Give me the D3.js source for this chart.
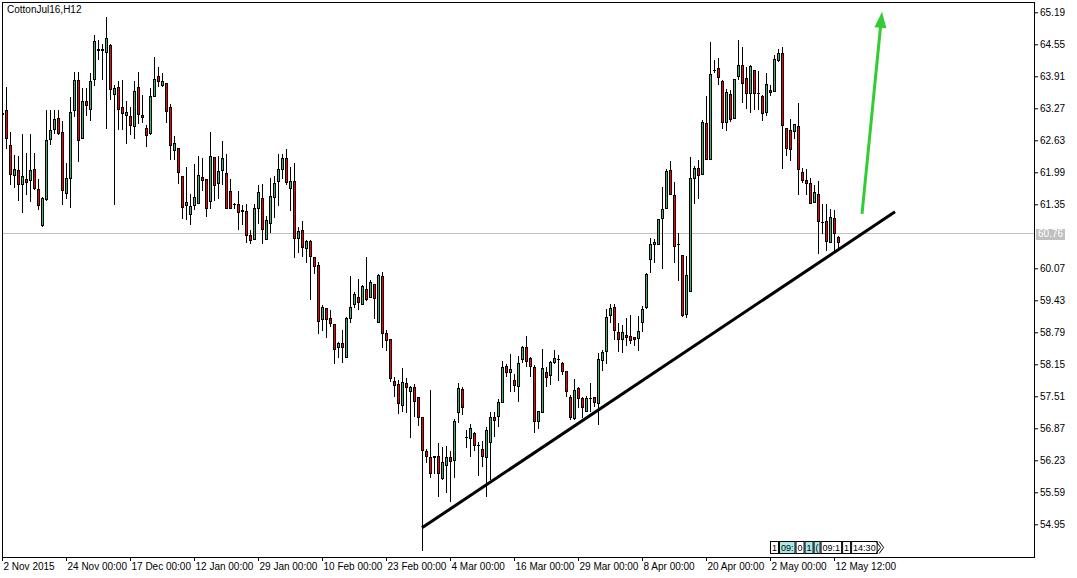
<!DOCTYPE html>
<html><head><meta charset="utf-8">
<script src="https://cdn.jsdelivr.net/npm/d3@7"></script>
<style>
body{margin:0;background:#fff;}
svg text{font-family:"Liberation Sans",Arial,sans-serif;}
</style>
</head><body>
<svg id="chart" width="1077" height="578"></svg>
<script>
const symbolTitle = "CottonJul16,H12";
const opens = [63.17,63.24,62.53,61.93,62.03,61.76,61.86,61.84,62.05,61.66,60.94,61.46,62.65,62.85,63.07,62.79,61.58,61.87,63.24,63.84,62.67,63.42,63.26,63.86,64.46,64.43,64.40,64.53,63.56,63.70,63.30,63.14,63.12,62.91,63.70,63.14,62.87,62.77,63.52,63.92,63.74,63.78,63.30,62.43,62.47,61.92,61.34,61.16,61.34,61.38,61.89,61.86,61.42,62.29,61.78,62.03,61.97,61.62,61.36,61.36,61.23,61.22,60.74,60.66,61.28,61.48,60.66,60.98,61.50,61.82,62.05,62.27,61.68,61.82,60.68,60.84,60.47,60.61,60.29,60.13,59.06,59.28,59.08,58.96,58.50,58.58,58.30,59.08,59.36,59.49,59.36,59.65,59.49,59.75,59.00,59.91,58.78,58.66,57.81,57.75,57.33,57.77,57.61,57.69,57.49,57.09,56.42,56.30,56.32,56.32,55.88,56.14,56.30,56.24,57.19,57.65,56.70,56.68,56.78,56.54,56.46,56.30,56.60,57.09,57.11,57.39,58.12,58.00,57.83,57.71,58.26,58.50,58.28,58.10,57.01,57.19,57.99,57.93,58.20,58.26,58.18,58.02,57.49,57.07,57.67,57.47,57.21,57.47,57.49,57.37,58.24,58.42,59.14,59.30,58.80,58.66,58.74,58.72,58.70,58.68,58.99,59.30,60.25,60.55,60.55,61.08,61.28,62.03,61.54,60.55,60.33,59.16,59.61,61.87,62.07,61.95,62.97,62.25,64.04,64.08,63.82,62.99,63.56,63.07,63.92,64.14,63.88,63.58,64.04,63.58,63.52,63.20,63.64,63.62,64.24,64.38,62.87,62.83,62.81,62.91,61.99,61.84,61.78,61.40,61.56,61.00,61.02,60.59,61.08,60.70];
const highs = [63.20,63.70,62.79,62.33,62.31,62.75,62.37,62.75,62.37,61.86,61.50,63.24,63.24,63.24,63.24,63.01,62.17,63.50,64.00,64.00,63.68,63.68,63.98,64.73,64.63,64.55,65.09,64.55,63.74,63.82,63.84,63.42,63.30,63.82,64.00,63.54,62.93,63.68,64.30,64.10,63.98,63.78,63.36,62.71,62.47,61.92,62.09,61.56,62.15,62.31,62.27,61.86,62.79,62.29,62.31,62.61,62.35,61.86,61.37,61.62,61.34,61.36,60.84,61.36,61.74,61.76,61.12,61.87,61.92,62.35,62.35,62.45,62.09,62.17,60.90,61.02,60.63,60.63,60.29,60.19,59.34,59.28,59.24,58.96,58.60,58.84,59.10,59.91,59.59,59.85,59.73,60.29,59.83,59.75,59.95,59.99,58.84,58.66,57.89,57.83,58.07,57.87,57.71,57.75,57.49,57.09,56.46,57.63,56.32,56.58,56.50,56.52,56.42,57.05,57.77,57.69,56.83,56.95,56.80,56.60,56.62,56.89,57.19,57.19,57.45,58.22,58.16,58.36,57.95,58.32,58.52,58.72,58.30,58.14,57.21,58.46,58.10,58.22,58.44,58.34,58.20,58.02,57.53,57.85,57.69,57.49,57.51,57.77,57.49,58.38,58.44,59.26,59.36,59.36,58.98,58.94,59.08,59.14,58.70,59.12,59.32,59.97,60.68,60.66,61.06,61.70,62.05,62.21,61.80,60.78,60.33,60.31,62.29,62.11,62.23,63.03,63.52,64.59,64.24,64.28,63.84,63.66,63.64,63.86,64.63,64.49,64.10,64.14,64.04,64.02,63.54,63.98,63.74,64.34,64.46,64.49,62.87,63.05,62.95,63.38,62.07,62.05,61.87,61.74,61.82,61.36,61.36,61.26,61.24,60.72];
const lows = [63.12,62.47,61.76,61.70,61.44,61.20,61.56,61.42,61.66,61.26,60.92,61.44,62.55,62.77,62.75,61.36,61.48,61.30,63.11,62.21,62.67,63.13,63.03,63.74,64.26,63.86,62.87,63.46,61.36,62.85,62.85,62.57,62.75,62.67,62.97,62.99,62.51,62.75,63.52,63.72,63.72,62.99,62.25,62.25,61.78,61.08,61.06,60.96,61.26,61.38,61.64,61.12,61.28,61.44,61.48,61.76,61.28,61.28,61.28,60.86,60.96,60.59,60.57,60.66,60.98,60.57,60.66,60.80,61.10,61.34,61.87,61.76,61.24,60.29,60.39,60.31,60.19,59.45,59.97,58.78,58.84,58.70,58.92,58.18,58.30,58.20,58.30,59.00,59.30,59.26,59.36,59.43,59.49,59.08,59.00,58.50,58.44,57.81,57.51,57.17,57.21,57.19,56.70,57.11,56.93,54.43,56.20,55.90,55.98,55.52,55.86,55.60,55.42,55.90,56.99,57.15,56.50,56.32,56.44,55.94,56.12,55.52,55.86,56.72,56.91,57.39,57.91,57.61,57.61,57.41,58.20,58.12,57.91,56.79,56.87,57.19,57.71,57.75,58.18,57.83,57.96,57.51,57.05,57.05,57.29,57.09,57.21,57.21,57.31,56.95,58.04,58.18,59.00,58.66,58.42,58.40,58.54,58.58,58.54,58.44,58.82,59.28,59.99,60.19,60.55,60.07,61.28,61.56,60.19,59.83,59.12,59.10,59.61,61.38,61.48,61.95,62.25,62.25,64.00,63.76,62.87,62.83,63.01,63.07,63.86,63.40,63.28,63.20,63.26,63.26,63.03,63.14,63.54,63.62,64.22,62.07,62.33,62.23,62.67,61.56,61.80,61.56,61.38,61.40,60.37,60.78,60.43,60.59,60.39,60.49];
const closes = [63.15,62.67,61.95,62.05,61.76,61.92,61.80,62.03,61.68,61.34,61.48,62.63,62.83,63.05,62.77,61.64,61.87,63.20,63.84,62.63,63.42,63.34,63.82,64.61,64.44,64.45,64.67,63.66,63.68,63.26,63.18,63.20,62.93,63.62,63.16,63.09,62.73,63.52,63.86,63.82,63.82,63.22,62.53,62.57,61.99,61.30,61.40,61.32,61.50,61.93,61.83,61.28,62.31,61.74,62.01,62.27,61.28,61.28,61.36,61.20,61.21,60.74,60.64,61.28,61.60,60.86,61.04,61.52,61.78,62.05,62.27,61.80,61.82,60.68,60.82,60.49,60.61,60.31,60.11,59.02,59.30,59.06,58.98,58.46,58.58,58.50,59.08,59.30,59.55,59.39,59.71,59.45,59.79,59.47,59.93,58.78,58.64,57.87,57.73,57.37,57.79,57.69,57.69,57.41,57.09,56.44,56.32,55.98,56.30,55.98,56.20,56.30,56.22,57.01,57.67,57.29,56.70,56.87,56.54,56.54,56.32,56.84,57.09,57.03,57.39,58.10,58.00,58.06,57.73,58.18,58.50,58.22,58.12,57.01,57.21,58.08,57.89,58.20,58.28,58.26,58.02,57.61,57.09,57.63,57.47,57.29,57.47,57.47,57.39,58.26,58.40,59.10,59.28,58.84,58.66,58.80,58.70,58.64,58.66,58.82,59.26,59.95,60.55,60.59,61.06,61.26,62.01,61.56,60.51,60.55,59.14,59.93,61.87,62.07,61.93,62.99,62.25,63.96,64.04,63.90,62.99,63.60,63.05,63.86,64.14,63.78,63.58,64.12,63.58,63.58,63.18,63.76,63.60,64.26,64.38,62.93,62.47,62.45,62.95,62.05,61.84,61.78,61.38,61.60,61.02,61.00,60.61,61.10,60.78,60.59];

const timeLabelBars = [0,16,32,48,64,80,96,112,128,144,160,176,192,208];
const timeLabels = ["2 Nov 2015","24 Nov 00:00","17 Dec 00:00","12 Jan 00:00","29 Jan 00:00","10 Feb 00:00","23 Feb 00:00","4 Mar 00:00","16 Mar 00:00","29 Mar 00:00","8 Apr 00:00","20 Apr 00:00","2 May 00:00","12 May 12:00"];
const priceTicks = [65.19,64.55,63.91,63.27,62.63,61.99,61.35,60.07,59.43,58.79,58.15,57.51,56.87,56.23,55.59,54.95];
const currentPrice = 60.76;
// support trend line: [bar index, price] at its two ends
const trendBars = [105, 223.25];
const trendPrices = [54.88, 61.20];
// projected move arrow: [bar index, price] from tail to tip
const arrowBars = [215, 220];
const arrowPrices = [61.16, 65.20];
// overlapping time-scale markers at bottom right
const navLabels = ["1","09:","0","1","(","09:1","1","14:30"];
const navHighlight = [false,true,false,true,true,false,false,false];

const svg = d3.select("#chart");
const L = 2, T = 2, R = 1034, B = 557;
const bullColor = "#3CB371", bearColor = "#FF0000";

const x = d3.scaleLinear().domain([0, 208]).range([2, 834]);
const y = d3.scaleLinear().domain([54.95, 65.19]).range([524.3, 12.3]);

svg.append("rect").attr("width",1077).attr("height",578).attr("fill","#fff");
svg.append("defs").append("clipPath").attr("id","clip")
  .append("rect").attr("x",L).attr("y",T).attr("width",R-L).attr("height",B-T);

// current price line
const py = Math.floor(y(currentPrice)) + 0.5;
svg.append("line").attr("x1",L).attr("x2",R).attr("y1",py).attr("y2",py)
  .attr("stroke","#C0C0C0").attr("stroke-width",1);

const bars = opens.map((o,i)=>({i, o, h: highs[i], l: lows[i], c: closes[i]}));
const g = svg.append("g").attr("clip-path","url(#clip)");

g.selectAll("line.wick").data(bars).join("line").attr("class","wick")
  .attr("x1", d => Math.round(x(d.i)) + 0.5).attr("x2", d => Math.round(x(d.i)) + 0.5)
  .attr("y1", d => Math.round(y(d.h))).attr("y2", d => Math.round(y(d.l)) + 1)
  .attr("stroke","#000").attr("stroke-width",1);

const bodyTop = d => Math.round(y(Math.max(d.o, d.c)));
const bodyBot = d => Math.round(y(Math.min(d.o, d.c)));
g.selectAll("rect.body").data(bars.filter(d => bodyBot(d) - bodyTop(d) >= 1)).join("rect").attr("class","body")
  .attr("x", d => Math.round(x(d.i)) - 0.5).attr("width", 2)
  .attr("y", d => bodyTop(d) + 0.5).attr("height", d => bodyBot(d) - bodyTop(d))
  .attr("fill", d => d.c > d.o ? bullColor : bearColor)
  .attr("stroke","#000").attr("stroke-width",1);
g.selectAll("line.doji").data(bars.filter(d => bodyBot(d) - bodyTop(d) < 1)).join("line").attr("class","doji")
  .attr("x1", d => Math.round(x(d.i)) - 1).attr("x2", d => Math.round(x(d.i)) + 2)
  .attr("y1", d => bodyTop(d) + 0.5).attr("y2", d => bodyTop(d) + 0.5)
  .attr("stroke","#000").attr("stroke-width",1);

// trend line
g.append("line")
  .attr("x1", x(trendBars[0])).attr("y1", y(trendPrices[0]))
  .attr("x2", x(trendBars[1])).attr("y2", y(trendPrices[1]))
  .attr("stroke","#000").attr("stroke-width",3);

// green arrow
const ax0 = x(arrowBars[0]), ay0 = y(arrowPrices[0]), ax1 = x(arrowBars[1]), ay1 = y(arrowPrices[1]);
const len = Math.hypot(ax1-ax0, ay1-ay0), ux = (ax1-ax0)/len, uy = (ay1-ay0)/len;
const headLen = 16, headW = 6;
const bx = ax1 - ux*headLen, by = ay1 - uy*headLen;
g.append("line").attr("x1",ax0).attr("y1",ay0).attr("x2",bx+ux*2).attr("y2",by+uy*2)
  .attr("stroke","#32CD32").attr("stroke-width",3);
g.append("path").attr("d", `M${ax1},${ay1}L${bx - uy*headW},${by + ux*headW}L${bx + uy*headW},${by - ux*headW}Z`)
  .attr("fill","#32CD32");

// frame
svg.append("rect").attr("x",L+0.5).attr("y",T+0.5).attr("width",R-L).attr("height",B-T)
  .attr("fill","none").attr("stroke","#000").attr("stroke-width",1);

// price axis
const yAxis = d3.axisRight(y).tickValues(priceTicks).tickSize(4).tickPadding(2).tickFormat(d3.format(".2f"));
svg.append("g").attr("transform",`translate(${R},0)`).call(yAxis)
  .call(s => s.select(".domain").remove())
  .call(s => s.selectAll("text").attr("font-family","Liberation Sans, Arial, sans-serif").attr("font-size",10).attr("fill","#000"))
  .call(s => s.selectAll("line").attr("stroke","#000"));

// current price label
svg.append("rect").attr("x",R+2).attr("y",Math.round(y(currentPrice))-5).attr("width",29).attr("height",11).attr("fill","#C0C0C0");
svg.append("text").attr("x",R+4).attr("y",y(currentPrice)).attr("dy","0.34em")
  .attr("font-size",10).attr("fill","#fff").text(currentPrice.toFixed(2));

// time axis
const xAxis = d3.axisBottom(x).tickValues(timeLabelBars).tickSize(4).tickPadding(2)
  .tickFormat((d,i) => timeLabels[i]);
svg.append("g").attr("transform",`translate(0,${B})`).call(xAxis)
  .call(s => s.select(".domain").remove())
  .call(s => s.selectAll("text").attr("text-anchor","start").attr("x",1)
    .attr("font-family","Liberation Sans, Arial, sans-serif").attr("font-size",10).attr("fill","#000"))
  .call(s => s.selectAll("line").attr("stroke","#000"));

// title
svg.append("text").attr("x",7).attr("y",13).attr("font-size",10).attr("fill","#000").text(symbolTitle);

// nav markers
let nx = 770;
const ng = svg.append("g");
navLabels.forEach((t,i) => {
  const txt = ng.append("text").attr("y",551).attr("font-size",9).attr("fill","#000").text(t);
  const w = Math.max(4, txt.node().getComputedTextLength() + 3);
  ng.insert("rect","text").attr("x",nx+0.5).attr("y",541.5).attr("width",w).attr("height",12)
    .attr("fill", navHighlight[i] ? "#A8E8E8" : "#fff").attr("stroke","#000");
  txt.attr("x", nx + 2);
  nx += w + 1;
});
ng.append("path").attr("d",`M${nx-1.5},541.5L${nx+3},547.5L${nx-1.5},553.5M${nx+1.5},541.5L${nx+6},547.5L${nx+1.5},553.5`)
  .attr("fill","none").attr("stroke","#000");
</script>
</body></html>
